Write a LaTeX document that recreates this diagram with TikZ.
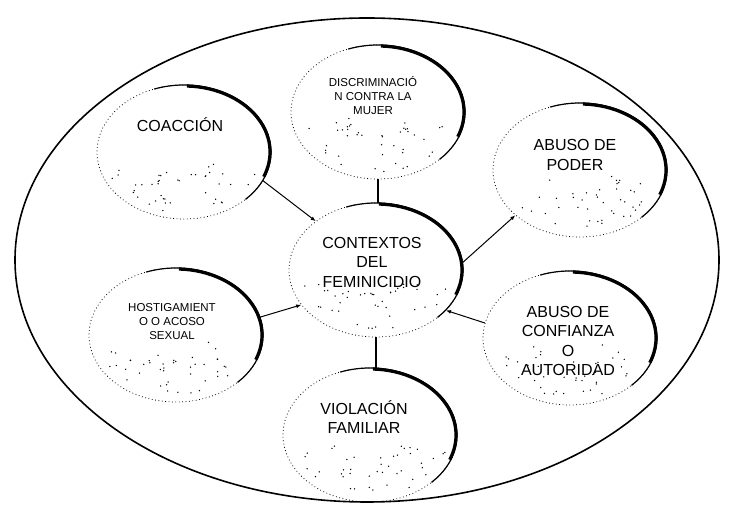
\documentclass[tikz,border=0pt]{standalone}
\usepackage{fontspec}
\setmainfont{Liberation Sans}
\usepackage{tikz}
\usetikzlibrary{positioning,calc,arrows.meta,shapes.geometric}
\newcommand{\rim}[1]{%
  \draw[line width=1.2pt] ($(#1.center)+(110:87pt and 67pt)$) arc[start angle=110,end angle=-45,x radius=87pt,y radius=67pt];
  \draw[line width=3.2pt] ($(#1.center)+(88:86pt and 66pt)$) arc[start angle=88,end angle=-22,x radius=86pt,y radius=66pt];}
\newcommand{\stipple}[1]{%
  \foreach \k in {1,...,42}{%
    \pgfmathsetmacro{\ang}{195+150*rnd}%
    \pgfmathsetmacro{\rad}{0.35+0.6*rnd}%
    \pgfmathsetmacro{\sx}{\rad*84}%
    \pgfmathsetmacro{\sy}{\rad*64}%
    \fill ($(#1.center)+(\ang:\sx pt and \sy pt)$) circle (0.75pt);
  }}

\begin{document}
\begin{tikzpicture}[x=1pt,y=1pt,
bubble/.style={ellipse,draw,line width=0.8pt,dash pattern=on 0.8pt off 2.6pt,
  minimum width=174pt,minimum height=134pt},
big/.style={font=\fontsize{16}{19.5}\selectfont,align=center},
small/.style={font=\fontsize{11.5}{14}\selectfont,align=center},
edge/.style={line width=1pt,-{Latex[length=5pt,width=4pt]}},
link/.style={line width=1.2pt}]

\pgfmathsetseed{17}
\useasboundingbox (0,0) rectangle (731,513);

% outer frame
\node[ellipse,draw,line width=1.6pt,minimum width=704pt,minimum height=484pt](marco) at (367,253){};

% bubbles
\node[bubble](disc) at (378,401){};
\node[bubble](coaccion) at (184,361){};
\node[bubble](poder) at (580,343){};
\node[bubble](centro) at (376,243){};
\node[bubble](hostig) at (176,178){};
\node[bubble](confianza) at (570,175){};
\node[bubble](viol) at (370,78){};

% shading of the bubbles
\rim{disc} \rim{coaccion} \rim{poder} \rim{centro}
\rim{hostig} \rim{confianza} \rim{viol}
\stipple{disc} \stipple{coaccion} \stipple{poder} \stipple{centro}
\stipple{hostig} \stipple{confianza} \stipple{viol}

% labels
\node[small](disc-t) at ([xshift=-5pt,yshift=16pt]disc.center){DISCRIMINACIÓ\\N CONTRA LA\\MUJER};
\node[big](coaccion-t) at ([xshift=-4pt,yshift=27pt]coaccion.center){COACCIÓN};
\node[big](poder-t) at ([xshift=-5pt,yshift=15pt]poder.center){ABUSO DE\\PODER};
\node[big](centro-t) at ([xshift=-4pt,yshift=8pt]centro.center){CONTEXTOS\\DEL\\FEMINICIDIO};
\node[small](hostig-t) at ([xshift=-4pt,yshift=13pt]hostig.center){HOSTIGAMIENT\\O O ACOSO\\SEXUAL};
\node[big](confianza-t) at ([xshift=-2pt,yshift=-3pt]confianza.center){ABUSO DE\\CONFIANZA\\O\\AUTORIDAD};
\node[big](viol-t) at ([xshift=-6pt,yshift=18pt]viol.center){VIOLACIÓN\\FAMILIAR};

% connectors
\draw[link] (disc.south) -- (disc.south |- centro.north);
\draw[edge] (coaccion.340) -- (centro.141);
\draw[edge] (centro.5) -- (poder.215);
\draw[edge] (hostig.12) -- (centro.205);
\draw[edge] (confianza.170) -- (centro.-30);
\draw[link] (centro.south) -- (centro.south |- viol.north);

\end{tikzpicture}
\end{document}
